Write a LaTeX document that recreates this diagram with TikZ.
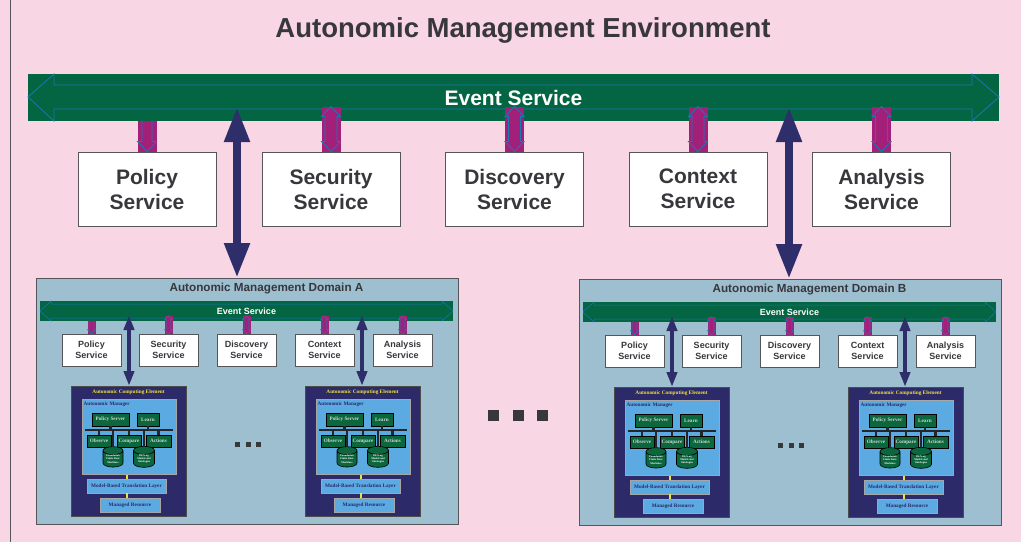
\documentclass[tikz,border=0pt]{standalone}
\usepackage{fontspec}
\setmainfont{Liberation Sans}
\newfontfamily\serifbf{Liberation Serif}
\usetikzlibrary{arrows.meta,shapes.geometric}
\definecolor{bgpink}{RGB}{249,214,228}
\definecolor{evgreen}{RGB}{4,101,66}
\definecolor{evblue}{RGB}{24,120,180}
\definecolor{magc}{RGB}{162,32,122}
\definecolor{navyc}{RGB}{46,46,106}
\definecolor{domfill}{RGB}{157,191,207}
\definecolor{acefill}{RGB}{44,42,104}
\definecolor{amfill}{RGB}{92,170,226}
\definecolor{gfill}{RGB}{12,102,62}
\definecolor{gtext}{RGB}{205,215,205}
\definecolor{yel}{RGB}{240,226,60}
\definecolor{txtgray}{RGB}{55,55,60}
\definecolor{bordergray}{RGB}{85,85,90}
\tikzset{
  svc/.style={draw=bordergray, line width=1, fill=white, inner sep=0, align=center, text=txtgray,
    minimum width=138, minimum height=74, font=\bfseries\fontsize{21}{25}\selectfont},
  dsvc/.style={draw=bordergray, line width=0.7, fill=white, inner sep=0, align=center, text=txtgray,
    minimum width=59, minimum height=32, font=\bfseries\fontsize{9}{11}\selectfont},
  navyarr/.style={draw=navyc, line width=8, arrows={Triangle[width=24pt,length=35pt]-Triangle[width=24pt,length=35pt]}},
  dnavyarr/.style={draw=navyc, line width=4, arrows={Triangle[width=10pt,length=15pt]-Triangle[width=10pt,length=15pt]}},
  dom/.style={draw=bordergray, fill=domfill, line width=1, inner sep=0},
  dtitle/.style={text=txtgray, font=\bfseries\fontsize{11.7}{13}\selectfont},
  devbar/.style={fill=evgreen, inner sep=0, text=white, font=\bfseries\fontsize{9}{10}\selectfont},
  devout/.style={draw=evblue, line width=0.5},
  outl/.style={draw=evblue, line width=0.8},
  doutl/.style={draw=evblue, line width=0.5},
  acebg/.style={fill=acefill, draw=black!70, line width=0.6, inner sep=0},
  acetitle/.style={text=yel, font=\serifbf\bfseries\fontsize{5.3}{6}\selectfont, inner sep=0},
  ambox/.style={fill=amfill, draw=gray!70, line width=0.6, inner sep=0},
  amlabel/.style={text=acefill, font=\serifbf\bfseries\fontsize{5.2}{6}\selectfont, inner sep=0},
  gbox/.style={fill=gfill, draw=black, line width=0.6, inner sep=0, text=gtext, font=\serifbf\bfseries\fontsize{5.2}{6}\selectfont},
  cyl/.style={cylinder, shape border rotate=90, aspect=0.6, fill=gfill, draw=black, line width=0.6, inner sep=0,
    text=white, align=center, font=\serifbf\bfseries\fontsize{2.7}{3.1}\selectfont},
  lbox/.style={fill=amfill, draw=gray!70, line width=0.6, inner sep=0, text=acefill, font=\serifbf\bfseries\fontsize{5.2}{6}\selectfont},
  bus/.style={draw=black!85, line width=1.5},
  stub/.style={draw=black!85, line width=2.2},
  cline/.style={draw=black!85, line width=1.1},
  yconn/.style={draw=yel, line width=2},
  dot/.style={fill=txtgray, draw=none}
}
% magenta connector: #1 anchor, #2 length, #3 half width, #4 shaft half width, #5 head length, #6 1=double 0=single
\newcommand\magconn[7]{%
  \begin{scope}[shift={(#1)}]
    \fill[magc] (-#3,-#2) rectangle (#3,0);
    \ifnum#6=1
      \draw[#7] (0,-#2) -- (#3,{-#2+#5}) -- (#4,{-#2+#5}) -- (#4,-#5) -- (#3,-#5) -- (0,0) -- (-#3,-#5) -- (-#4,-#5) -- (-#4,{-#2+#5}) -- (-#3,{-#2+#5}) -- cycle;
    \else
      \draw[#7] (-#4,-#2) -- (-#4,-#5) -- (-#3,-#5) -- (0,0) -- (#3,-#5) -- (#4,-#5) -- (#4,-#2);
    \fi
  \end{scope}}
% autonomic computing element: #1 x, #2 y, #3 id
\newcommand\acebox[3]{%
  \begin{scope}[shift={(#1,#2)}]
    \node[acebg, minimum width=115, minimum height=130, anchor=north west] (ace#3) at (0,0) {};
    \node[acetitle] (acet#3) at (57.5,6.3) {Autonomic Computing Element};
    \node[ambox, minimum width=94, minimum height=75, anchor=north west] (am#3) at (11,13) {};
    \node[amlabel, anchor=west] (aml#3) at (12.5,18) {Autonomic Manager};
    \coordinate (busl#3) at (14,44);
    \coordinate (busr#3) at (102,44);
    \node[gbox, minimum width=37, minimum height=13] (ps#3) at (39.5,33.5) {Policy Server};
    \node[gbox, minimum width=22, minimum height=13] (ln#3) at (77,33.5) {Learn};
    \node[gbox, minimum width=24, minimum height=12] (ob#3) at (28,55) {Observe};
    \node[gbox, minimum width=24, minimum height=12] (cp#3) at (58,55) {Compare};
    \node[gbox, minimum width=25, minimum height=12] (ac#3) at (87.5,55) {Actions};
    \node[cyl, minimum width=20, minimum height=20] (cya#3) at (42,73) {Foundation\\Finite State\\Machines};
    \node[cyl, minimum width=21, minimum height=20] (cyb#3) at (73,73) {DEN-ng\\Models and\\Ontologies};
    \draw[bus] (busl#3) -- (busr#3);
    \draw[stub] (ps#3.south) -- (ps#3.south |- busl#3);
    \draw[stub] (ln#3.south) -- (ln#3.south |- busl#3);
    \draw[stub] (ob#3.north) -- (ob#3.north |- busl#3);
    \draw[stub] (cp#3.north) -- (cp#3.north |- busl#3);
    \draw[stub] (ac#3.north) -- (ac#3.north |- busl#3);
    \draw[cline] (cya#3.north) -- (cya#3.north |- busl#3);
    \draw[cline] (cyb#3.north) -- (cyb#3.north |- busl#3);
    \node[lbox, minimum width=79, minimum height=14] (mb#3) at (55.5,100) {Model-Based Translation Layer};
    \node[lbox, minimum width=60, minimum height=14] (mr#3) at (59,119) {Managed Resource};
    \draw[yconn] (mb#3.north) -- (mb#3.north |- am#3.south);
    \draw[yconn] (mb#3.south) -- (mb#3.south |- mr#3.north);
  \end{scope}}
% management domain: #1 shift x, #2 shift y, #3 letter
\newcommand\domainbox[3]{%
  \begin{scope}[shift={(#1,#2)}]
    \node[dom, minimum width=422, minimum height=246, anchor=north west] (dom#3) at (36,278) {};
    \node[dtitle] (dt#3) at (266.5,288) {Autonomic Management Domain #3};
    \node[devbar, minimum width=413, minimum height=20] (dev#3) at (246.5,311) {Event Service};
    \draw[devout] (40,311) -- (51,301) -- (51,304) -- (442,304) -- (442,301) -- (453,311) -- (442,321) -- (442,318) -- (51,318) -- (51,321) -- cycle;
    \node[dsvc] (dpol#3) at (91.5,350) {Policy\\Service};
    \node[dsvc] (dsec#3) at (168.5,350) {Security\\Service};
    \node[dsvc] (ddis#3) at (246.5,350) {Discovery\\Service};
    \node[dsvc] (dcon#3) at (324.5,350) {Context\\Service};
    \node[dsvc] (dana#3) at (402.5,350) {Analysis\\Service};
    \magconn{dpol#3.north}{13}{4}{2.3}{4}{0}{doutl}
    \magconn{dsec#3.north}{18}{4}{2.3}{4}{1}{doutl}
    \magconn{ddis#3.north}{18}{4}{2.3}{4}{1}{doutl}
    \magconn{dcon#3.north}{18}{4}{2.3}{4}{1}{doutl}
    \magconn{dana#3.north}{18}{4}{2.3}{4}{1}{doutl}
    \acebox{71}{386}{#3a}
    \acebox{305}{386}{#3b}
    \coordinate (na#3) at (129,315);
    \coordinate (nb#3) at (362,315);
    \draw[dnavyarr] (na#3) -- (na#3 |- ace#3a.north);
    \draw[dnavyarr] (nb#3) -- (nb#3 |- ace#3b.north);
    \fill[dot] (235,442) rectangle (240,447);
    \fill[dot] (245.5,442) rectangle (250.5,447);
    \fill[dot] (256,442) rectangle (261,447);
  \end{scope}}
\begin{document}
\begin{tikzpicture}[x=1pt,y=-1pt]
\useasboundingbox (0,0) rectangle (1021,542);
\fill[bgpink] (0,0) rectangle (1021,542);
\draw[bordergray, line width=1] (10,0) -- (10,542);
\node[text=txtgray, font=\bfseries\fontsize{27.5}{30}\selectfont] (title) at (523,30) {Autonomic Management Environment};
% top event service
\node[fill=evgreen, inner sep=0, minimum width=971, minimum height=47, text=white,
  font=\bfseries\fontsize{21}{24}\selectfont] (ev) at (513.5,97.5) {Event Service};
\draw[outl] (28,97) -- (54,74) -- (54,85) -- (972,85) -- (972,74) -- (999,97) -- (972,121) -- (972,109) -- (54,109) -- (54,121) -- cycle;
% services
\node[svc] (pol) at (147,189) {Policy\\Service};
\node[svc] (sec) at (331,189) {Security\\Service};
\node[svc] (dis) at (514.5,189) {Discovery\\Service};
\node[svc] (con) at (698,189) {Context\\Service};
\node[svc] (ana) at (881.5,189) {Analysis\\Service};
\magconn{pol.north}{31}{9.5}{5}{10}{0}{outl}
\magconn{sec.north}{45}{9.5}{6}{10}{1}{outl}
\magconn{dis.north}{45}{9.5}{6}{10}{1}{outl}
\magconn{con.north}{45}{9.5}{6}{10}{1}{outl}
\magconn{ana.north}{45}{9.5}{6}{10}{1}{outl}
% domains
\domainbox{0}{0}{A}
\domainbox{543}{1}{B}
% big arrows
\coordinate (NA) at (237,107);
\coordinate (NB) at (789,107);
\draw[navyarr] (NA) -- (NA |- domA.north);
\draw[navyarr] (NB) -- (NB |- domB.north);
% dots between domains
\fill[dot] (488,410) rectangle (499,420.5);
\fill[dot] (512.5,410) rectangle (523.5,420.5);
\fill[dot] (537,410) rectangle (548,420.5);
\end{tikzpicture}
\end{document}
